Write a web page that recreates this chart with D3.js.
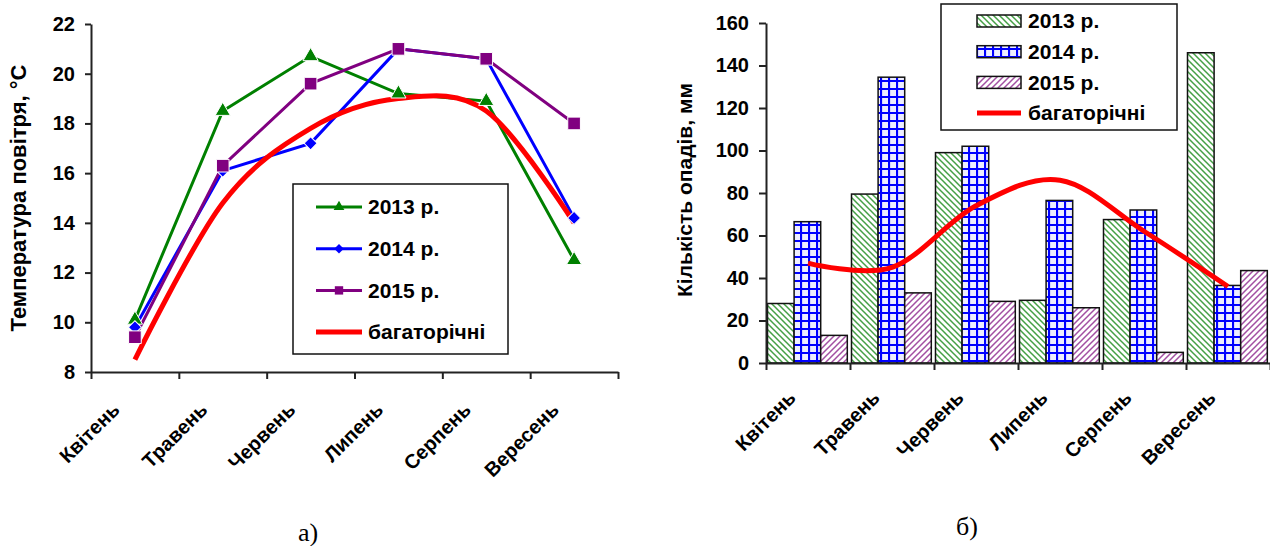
<!DOCTYPE html>
<html>
<head>
<meta charset="utf-8">
<script src="https://cdn.jsdelivr.net/npm/d3@7"></script>
<style>
  body { margin: 0; background: #fff; }
  svg { font-family: "Liberation Sans", Arial, sans-serif; font-weight: bold; }
  .axis path, .axis line { stroke: #222; stroke-width: 2; }
  .axis text { font-size: 20px; font-weight: bold; fill: #000; font-family: "Liberation Sans", Arial, sans-serif; }
  .cat { font-size: 20px; }
  .leg { font-size: 21px; }
  .cap { font-family: "Liberation Serif", "DejaVu Serif", serif; font-weight: normal; font-size: 26px; }
</style>
</head>
<body>
<svg id="chart" width="1270" height="546"></svg>
<script>
// months on both charts
var months = ["Квітень", "Травень", "Червень", "Липень", "Серпень", "Вересень"];
var seriesNames = ["2013 р.", "2014 р.", "2015 р.", "багаторічні"];

// a) air temperature, °C
var tempTicks = [8, 10, 12, 14, 16, 18, 20, 22];
var temp2013 = [10.1, 18.5, 20.7, 19.2, 18.9, 12.5];
var temp2014 = [9.8, 16.1, 17.2, 21.0, 20.6, 14.2];
var temp2015 = [9.4, 16.3, 19.6, 21.0, 20.6, 18.0];
var tempNorm = [8.5, 14.8, 17.8, 19.0, 18.5, 14.0];

// b) precipitation, mm
var rainTicks = [0, 20, 40, 60, 80, 100, 120, 140, 160];
var rain2013 = [28, 79.5, 99, 29.5, 67.5, 146];
var rain2014 = [66.5, 134.5, 102, 76.5, 72, 36.5];
var rain2015 = [13, 33, 29, 26, 5, 43.5];
var rainNorm = [47, 45, 74, 86, 62, 36];

var svg = d3.select("#chart");
var defs = svg.append("defs");

// fill patterns for the bars
var pg = defs.append("pattern").attr("id", "pGreen")
    .attr("patternUnits", "userSpaceOnUse").attr("width", 6).attr("height", 6);
pg.append("rect").attr("width", 6).attr("height", 6).attr("fill", "#fff");
pg.append("path").attr("d", "M0,0L6,6M-1,5L1,7M5,-1L7,1")
    .attr("stroke", "#45a045").attr("stroke-width", 1.5);

var pb = defs.append("pattern").attr("id", "pBlue")
    .attr("patternUnits", "userSpaceOnUse").attr("width", 8).attr("height", 8);
pb.append("rect").attr("width", 8).attr("height", 8).attr("fill", "#eeeeff");
pb.append("path").attr("d", "M0,1H8M1,0V8")
    .attr("stroke", "#0000ff").attr("stroke-width", 2.2);

var pp = defs.append("pattern").attr("id", "pPurple")
    .attr("patternUnits", "userSpaceOnUse").attr("width", 6).attr("height", 6);
pp.append("rect").attr("width", 6).attr("height", 6).attr("fill", "#fff");
pp.append("path").attr("d", "M0,6L6,0M-1,1L1,-1M5,7L7,5")
    .attr("stroke", "#a24fa2").attr("stroke-width", 1.5);

var fills = ["url(#pGreen)", "url(#pBlue)", "url(#pPurple)"];
var lineColors = ["#008000", "#0000ff", "#800080", "#ff0000"];

function catLabels(g, xEdge, y0, dx, dy) {
    g.selectAll("text.cat")
        .data(months)
        .enter()
        .append("text")
        .attr("class", "cat")
        .attr("text-anchor", "end")
        .attr("transform", function(d, i){
            var cx = (xEdge(i) + xEdge(i + 1)) / 2;
            return "translate(" + (cx + dx) + "," + (y0 + dy) + ") rotate(-45)";
        })
        .text(function(d){ return d; });
}

// ---------------- chart a) ----------------
var gA = svg.append("g");
var xA = d3.scaleLinear().domain([0, 6]).range([91, 618]);
var yA = d3.scaleLinear().domain([8, 22]).range([372, 24]);
function cxA(i){ return (xA(i) + xA(i + 1)) / 2; }

gA.append("g")
    .attr("class", "axis")
    .attr("transform", "translate(91,0)")
    .call(d3.axisLeft(yA).tickValues(tempTicks).tickSize(6).tickSizeOuter(0).tickPadding(10));

gA.append("g")
    .attr("class", "axis")
    .attr("transform", "translate(0,372)")
    .call(d3.axisBottom(xA).tickValues(d3.range(7)).tickFormat("").tickSize(7).tickSizeOuter(0));

catLabels(gA, xA, 372, -14, 39);

gA.append("text")
    .attr("transform", "translate(18,198) rotate(-90)")
    .attr("text-anchor", "middle")
    .attr("dy", "0.35em")
    .style("font-size", "22px")
    .text("Температура повітря, °С");

var tempSeries = [temp2013, temp2014, temp2015];
var lineA = d3.line().x(function(d, i){ return cxA(i); }).y(function(d){ return yA(d); });
var smoothA = d3.line().x(function(d, i){ return cxA(i); }).y(function(d){ return yA(d); })
    .curve(d3.curveCardinal.tension(0));

tempSeries.forEach(function(s, k){
    gA.append("path").attr("d", lineA(s))
        .attr("fill", "none").attr("stroke", lineColors[k]).attr("stroke-width", 3);
});
gA.append("path").attr("d", smoothA(tempNorm))
    .attr("fill", "none").attr("stroke", "#ff0000").attr("stroke-width", 5);

var symTri = d3.symbol().type(d3.symbolTriangle).size(100);
var symDia = d3.symbol().type(d3.symbolSquare).size(85);
var symSq = d3.symbol().type(d3.symbolSquare).size(160);
var symbols = [symTri, symDia, symSq];
var symRot = [0, 45, 0];

tempSeries.forEach(function(s, k){
    gA.selectAll("path.m" + k)
        .data(s)
        .enter()
        .append("path")
        .attr("class", "m" + k)
        .attr("d", symbols[k]())
        .attr("transform", function(d, i){
            return "translate(" + cxA(i) + "," + yA(d) + ") rotate(" + symRot[k] + ")";
        })
        .attr("fill", lineColors[k])
        .attr("stroke", "#fff")
        .attr("stroke-width", 1);
});

// legend a)
var legA = gA.append("g");
legA.append("rect").attr("x", 293).attr("y", 184).attr("width", 215).attr("height", 170)
    .attr("fill", "#fff").attr("stroke", "#111").attr("stroke-width", 1.5);
var smallSym = [d3.symbol().type(d3.symbolTriangle).size(50),
                d3.symbol().type(d3.symbolSquare).size(45),
                d3.symbol().type(d3.symbolSquare).size(70)];
seriesNames.forEach(function(name, k){
    var yy = 207 + k * 41.7;
    legA.append("line").attr("x1", 316).attr("x2", 362).attr("y1", yy).attr("y2", yy)
        .attr("stroke", lineColors[k]).attr("stroke-width", k == 3 ? 5 : 3);
    if (k < 3) {
        legA.append("path").attr("d", smallSym[k]())
            .attr("transform", "translate(339," + yy + ") rotate(" + symRot[k] + ")")
            .attr("fill", lineColors[k]);
    }
    legA.append("text").attr("class", "leg").attr("x", 368).attr("y", yy).attr("dy", "0.35em").text(name);
});

svg.append("text").attr("class", "cap").attr("x", 308).attr("y", 541)
    .attr("text-anchor", "middle").text("а)");

// ---------------- chart b) ----------------
var gB = svg.append("g");
var xB = d3.scaleLinear().domain([0, 6]).range([766, 1270]);
var yB = d3.scaleLinear().domain([0, 160]).range([363, 23]);
var barW = 26.6;
var rainSeries = [rain2013, rain2014, rain2015];

rainSeries.forEach(function(s, k){
    gB.selectAll("rect.b" + k)
        .data(s)
        .enter()
        .append("rect")
        .attr("class", "b" + k)
        .attr("x", function(d, i){ return xB(i) + 1.5 + k * barW; })
        .attr("y", function(d){ return yB(d); })
        .attr("width", barW)
        .attr("height", function(d){ return yB(0) - yB(d); })
        .attr("fill", fills[k])
        .attr("stroke", "#111")
        .attr("stroke-width", 1.5);
});

gB.append("g")
    .attr("class", "axis")
    .attr("transform", "translate(766,0)")
    .call(d3.axisLeft(yB).tickValues(rainTicks).tickSize(7).tickSizeOuter(0).tickPadding(10));

gB.append("g")
    .attr("class", "axis")
    .attr("transform", "translate(0,363)")
    .call(d3.axisBottom(xB).tickValues(d3.range(7)).tickFormat("").tickSize(7).tickSizeOuter(0));

catLabels(gB, xB, 363, -11, 36);

gB.append("text")
    .attr("transform", "translate(685,190) rotate(-90)")
    .attr("text-anchor", "middle")
    .attr("dy", "0.35em")
    .style("font-size", "21px")
    .text("Кількість опадів, мм");

var smoothB = d3.line()
    .x(function(d, i){ return (xB(i) + xB(i + 1)) / 2; })
    .y(function(d){ return yB(d); })
    .curve(d3.curveCardinal.tension(0));
gB.append("path").attr("d", smoothB(rainNorm))
    .attr("fill", "none").attr("stroke", "#ff0000").attr("stroke-width", 5);

// legend b)
var legB = gB.append("g");
legB.append("rect").attr("x", 941).attr("y", 4).attr("width", 236).attr("height", 126)
    .attr("fill", "#fff").attr("stroke", "#111").attr("stroke-width", 1.5);
seriesNames.forEach(function(name, k){
    var yy = 21 + k * 30.7;
    if (k < 3) {
        legB.append("rect").attr("x", 977).attr("y", yy - 6).attr("width", 44).attr("height", 12)
            .attr("fill", fills[k]).attr("stroke", "#111").attr("stroke-width", 1.5);
    } else {
        legB.append("line").attr("x1", 977).attr("x2", 1021).attr("y1", yy).attr("y2", yy)
            .attr("stroke", "#ff0000").attr("stroke-width", 5);
    }
    legB.append("text").attr("class", "leg").attr("x", 1028).attr("y", yy).attr("dy", "0.35em").text(name);
});

svg.append("text").attr("class", "cap").attr("x", 967).attr("y", 535)
    .attr("text-anchor", "middle").text("б)");
</script>
</body>
</html>
